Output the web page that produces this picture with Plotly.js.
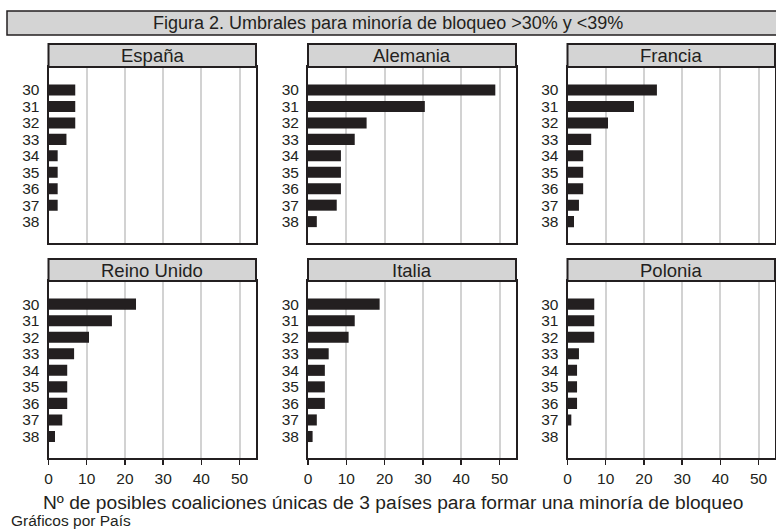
<!DOCTYPE html>
<html>
<head>
<meta charset="utf-8">
<script src="https://cdn.plot.ly/plotly-3.0.1.min.js"></script>
<style>html,body{margin:0;padding:0;background:#fff;}#chart{width:776px;height:529px;}</style>
</head>
<body>
<div id="chart"></div>
<script>
// ---- data ----
const countries = ["España", "Alemania", "Francia", "Reino Unido", "Italia", "Polonia"];
const thresholds = [30, 31, 32, 33, 34, 35, 36, 37, 38];
const espana     = [7.0, 7.0, 7.0, 4.7, 2.4, 2.4, 2.4, 2.4, 0];
const alemania   = [48.9, 30.5, 15.3, 12.2, 8.6, 8.6, 8.6, 7.5, 2.3];
const francia    = [23.4, 17.4, 10.6, 6.2, 4.1, 4.1, 4.1, 3.0, 1.7];
const reinoUnido = [22.9, 16.6, 10.6, 6.7, 4.9, 4.9, 4.9, 3.6, 1.7];
const italia     = [18.7, 12.2, 10.6, 5.4, 4.4, 4.4, 4.4, 2.3, 1.2];
const polonia    = [7.0, 7.0, 7.0, 3.0, 2.5, 2.5, 2.5, 1.0, 0];
const xTicks = [0, 10, 20, 30, 40, 50];
const chartTitle = "Figura 2. Umbrales para minoría de bloqueo >30% y <39%";
const xTitle = "Nº de posibles coaliciones únicas de 3 países para formar una minoría de bloqueo";
const note = "Gráficos por País";
const seriesList = [espana, alemania, francia, reinoUnido, italia, polonia];

// ---- layout geometry (pixels) ----
const W = 776, H = 529;
const cols = [[48.5, 256], [308, 516], [567.5, 775]];
const rows = [{hTop: 44, pTop: 67, pBot: 243}, {hTop: 259, pTop: 281, pBot: 458}];
const px = x => x / W;
const py = y => 1 - y / H;
const dark = "#231f20";
const font = "Liberation Sans, Arial, sans-serif";

const traces = [];
const layout = {
  width: W, height: H,
  margin: {l: 0, r: 0, t: 0, b: 0},
  paper_bgcolor: "#fff", plot_bgcolor: "#fff",
  showlegend: false,
  font: {family: font, color: dark, size: 15},
  shapes: [], annotations: []
};

// title box
layout.shapes.push({type: "rect", xref: "paper", yref: "paper",
  x0: px(7), x1: px(790), y0: py(35), y1: py(11),
  fillcolor: "#d4d4d4", line: {color: dark, width: 1.5}, layer: "below"});
layout.annotations.push({xref: "paper", yref: "paper", x: px(388), y: py(23),
  text: chartTitle, showarrow: false, xanchor: "center", yanchor: "middle",
  font: {size: 18, family: font, color: dark}});

countries.forEach((c, i) => {
  const r = Math.floor(i / 3), k = i % 3;
  const n = i + 1;
  const xa = n === 1 ? "xaxis" : "xaxis" + n;
  const ya = n === 1 ? "yaxis" : "yaxis" + n;
  const col = cols[k], row = rows[r];
  traces.push({
    type: "bar", orientation: "h",
    x: seriesList[i], y: thresholds,
    xaxis: "x" + (n === 1 ? "" : n), yaxis: "y" + (n === 1 ? "" : n),
    marker: {color: dark, line: {width: 0}}, width: 0.67,
    hoverinfo: "x+y"
  });
  const bottom = r === 1;
  layout[xa] = {
    domain: [px(col[0]), px(col[1])],
    anchor: "y" + (n === 1 ? "" : n),
    range: [0, 54.3], tickvals: xTicks,
    showticklabels: bottom, ticks: bottom ? "outside" : "", ticklen: 5, tickwidth: 1.5, tickcolor: dark,
    showgrid: true, gridcolor: "#d2d2d2", gridwidth: 2,
    showline: true, linecolor: dark, linewidth: 2, mirror: true,
    zeroline: false, tickfont: {size: 15.5, family: font, color: dark},
    fixedrange: true
  };
  layout[ya] = {
    domain: [py(row.pBot), py(row.pTop)],
    anchor: "x" + (n === 1 ? "" : n),
    range: [39.3, 28.6], tickvals: thresholds, ticktext: thresholds.map(String),
    showgrid: false, zeroline: false, ticks: "", ticklabelstandoff: 4,
    showline: true, linecolor: dark, linewidth: 2, mirror: true,
    tickfont: {size: 15.5, family: font, color: dark},
    fixedrange: true
  };
  // header strip
  layout.shapes.push({type: "rect", xref: "paper", yref: "paper",
    x0: px(col[0]), x1: px(col[1]), y0: py(row.pTop), y1: py(row.hTop),
    fillcolor: "#d4d4d4", line: {color: dark, width: 2}});
  layout.annotations.push({xref: "paper", yref: "paper",
    x: px((col[0] + col[1]) / 2), y: py((row.hTop + row.pTop) / 2),
    text: c, showarrow: false, xanchor: "center", yanchor: "middle",
    font: {size: 18.5, family: font, color: dark}});
});

layout.annotations.push({xref: "paper", yref: "paper", x: px(393), y: py(502),
  text: xTitle, showarrow: false, xanchor: "center", yanchor: "middle",
  font: {size: 19.2, family: font, color: dark}});
layout.annotations.push({xref: "paper", yref: "paper", x: px(9), y: py(520),
  text: note, showarrow: false, xanchor: "left", yanchor: "middle",
  font: {size: 15.5, family: font, color: dark}});

Plotly.newPlot("chart", traces, layout, {displayModeBar: false, staticPlot: true});
</script>
</body>
</html>
